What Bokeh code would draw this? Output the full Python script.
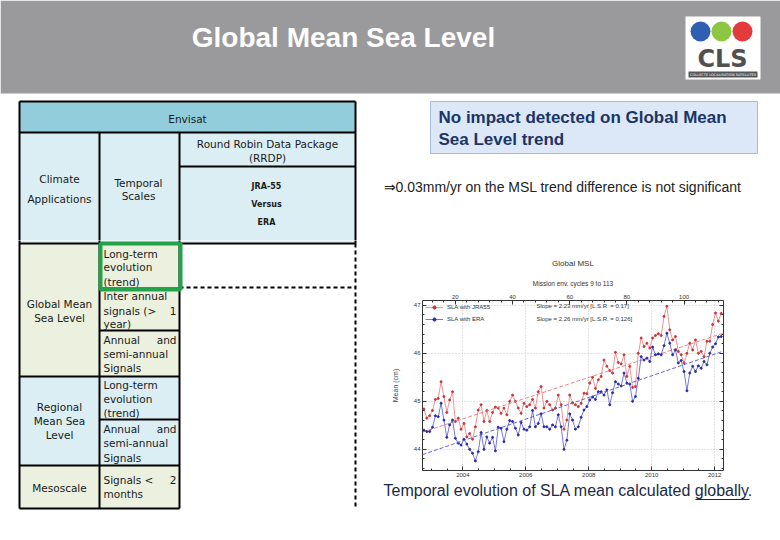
import numpy as np
from bokeh.plotting import figure
from bokeh.layouts import column, row
from bokeh.models import (Range1d, LinearAxis, SingleIntervalTicker, Legend, LegendItem,
                          Label, Title)
from bokeh.core.properties import value
from bokeh.embed import file_html
from bokeh.resources import INLINE

# ---------------- data ----------------
CYCLES = list(range(9, 114))
SLA_JRA55 = [44.84, 44.65, 44.70, 44.81, 45.04, 45.06, 45.41, 45.10, 44.77, 45.03,
             45.20, 44.58, 44.65, 44.42, 44.54, 44.26, 44.33, 44.21, 44.47, 44.82,
             44.93, 44.58, 44.81, 44.58, 44.77, 44.88, 44.86, 44.75, 44.86, 44.72,
             45.00, 45.13, 45.00, 44.86, 44.75, 44.96, 44.89, 44.93, 45.04, 44.86,
             45.20, 45.31, 44.86, 45.00, 44.93, 44.82, 44.86, 45.13, 44.93, 44.42,
             44.61, 45.13, 44.97, 44.93, 44.89, 44.96, 45.17, 45.16, 45.38, 45.50,
             45.27, 45.45, 45.52, 45.86, 45.73, 45.64, 45.59, 46.02, 45.81, 45.78,
             45.97, 45.52, 45.73, 45.29, 45.31, 46.00, 46.32, 46.14, 46.21, 46.11,
             46.32, 46.37, 46.41, 46.37, 46.77, 46.98, 46.49, 46.28, 46.35, 46.04,
             45.97, 45.80, 46.00, 46.21, 46.07, 46.28, 46.00, 46.04, 45.93, 46.25,
             46.25, 46.60, 46.84, 46.67, 46.83]
SLA_ERA = [44.40, 44.37, 44.37, 44.46, 44.70, 44.68, 44.96, 44.61, 44.25, 44.51,
           44.61, 44.23, 44.13, 44.09, 44.21, 44.11, 44.00, 43.92, 43.76, 43.95,
           44.35, 44.00, 44.26, 44.13, 44.25, 43.97, 44.46, 44.44, 44.16, 44.42,
           44.60, 44.58, 44.44, 44.30, 44.56, 44.42, 44.40, 44.47, 44.81, 44.47,
           44.54, 44.74, 44.47, 44.47, 44.42, 44.51, 44.47, 44.72, 44.47, 44.00,
           44.19, 44.74, 44.61, 44.42, 44.47, 44.67, 44.82, 44.89, 45.03, 45.09,
           45.04, 45.20, 45.20, 45.13, 45.24, 44.93, 45.18, 45.41, 45.36, 45.32,
           45.59, 45.38, 45.36, 45.00, 45.10, 45.48, 45.93, 45.86, 45.90, 45.83,
           46.13, 45.97, 45.99, 45.97, 46.16, 46.42, 46.21, 45.97, 46.07, 45.80,
           45.85, 45.62, 45.22, 45.59, 45.73, 45.62, 45.74, 45.69, 45.83, 45.76,
           46.00, 46.13, 46.20, 46.34, 46.35]
SERIES_NAMES = ["SLA with JRA55", "SLA with ERA"]
SLOPES = ["2.23", "2.26"]
LSR = ["0.17", "0.126"]
Y_TICKS = [44, 45, 46, 47]

# ---------------- inner chart ----------------
chart = figure(width=400, height=240, x_range=Range1d(2002.72, 2012.28),
               y_range=Range1d(43.56, 47.1), output_backend="svg", toolbar_location=None,
               title="Global MSL", min_border_left=42, min_border_right=57,
               min_border_top=60, min_border_bottom=10, frame_align=False,
               background_fill_color="white", border_fill_color="white",
               outline_line_color="#333333", outline_line_width=1)
chart.title.align = "center"
chart.title.text_font = "Liberation Sans"
chart.title.text_font_size = "8px"
chart.title.text_font_style = "normal"
chart.title.text_color = "#333333"
chart.extra_x_ranges = {"cycle": Range1d(8.5, 113.8)}

xt = SingleIntervalTicker(interval=2, num_minor_ticks=4)
yt = SingleIntervalTicker(interval=1, num_minor_ticks=5)
chart.xaxis.ticker = xt
chart.yaxis.ticker = yt
chart.xgrid.ticker = xt
chart.ygrid.ticker = yt
chart.grid.grid_line_color = "#bbbbbb"
chart.grid.grid_line_dash = "1 2"
chart.grid.grid_line_width = 0.8
chart.yaxis.axis_label = "Mean (cm)"
chart.yaxis.axis_label_text_font_size = "7px"
chart.yaxis.axis_label_text_font_style = "normal"
chart.yaxis.axis_label_text_font = "Liberation Sans"
chart.yaxis.axis_label_standoff = 12

top_axis = LinearAxis(x_range_name="cycle", ticker=SingleIntervalTicker(interval=20, num_minor_ticks=5))
right_axis = LinearAxis(ticker=yt, major_label_overrides={t: "" for t in Y_TICKS})
chart.add_layout(top_axis, "above")
chart.add_layout(right_axis, "right")
chart.add_layout(Title(text="Mission env. cycles 9 to 113", align="center", text_font_size="6.5px",
                       text_font_style="normal", text_color="#333333", text_font="Liberation Sans"),
                 "above")

for ax in chart.axis:
    ax.axis_line_color = None
    ax.major_tick_in = 4
    ax.major_tick_out = 0
    ax.minor_tick_in = 2
    ax.minor_tick_out = 0
    ax.major_tick_line_color = "#333333"
    ax.minor_tick_line_color = "#333333"
    ax.major_label_text_font_size = "6px"
    ax.major_label_text_font = "Liberation Sans"
    ax.major_label_text_color = "#333333"
    ax.major_label_standoff = 2

colors = [("#e87878", "#cc3333"), ("#5555cc", "#2a2aa8")]
items = []
for vals, (lc, mc), name in zip([SLA_JRA55, SLA_ERA], colors, SERIES_NAMES):
    rl = chart.line(CYCLES, vals, x_range_name="cycle", line_color=lc, line_width=0.8)
    rs = chart.scatter(CYCLES, vals, x_range_name="cycle", size=2.0, color=mc)
    coef = np.polyfit(CYCLES, vals, 1)
    xs = [chart.extra_x_ranges["cycle"].start, chart.extra_x_ranges["cycle"].end]
    chart.line(xs, list(np.polyval(coef, xs)), x_range_name="cycle", line_color=lc,
               line_width=0.9, line_dash="4 2")
    items.append(LegendItem(label=name, renderers=[rl, rs]))

leg = Legend(items=items, location="top_left", label_text_font_size="6px",
             label_text_font="Liberation Sans", label_text_color="#333333",
             glyph_width=18, glyph_height=8, spacing=4, padding=2, margin=3,
             label_standoff=4, background_fill_alpha=0, border_line_color=None)
chart.add_layout(leg)
for i, (s, l) in enumerate(zip(SLOPES, LSR)):
    chart.add_layout(Label(x=2006.34, y=46.98 - 0.26 * i,
                           text=f"Slope = {s} mm/yr [L.S.R. = {l}]",
                           text_font_size="6px", text_font="Liberation Sans",
                           text_color="#333333", text_baseline="middle"))


# ---------------- slide pieces (tiled around the chart) ----------------
def piece(x0, x1, y0, y1):
    f = figure(width=x1 - x0, height=y1 - y0, x_range=Range1d(x0, x1), y_range=Range1d(y1, y0),
               output_backend="svg", toolbar_location=None, x_axis_type=None,
               y_axis_type=None, min_border=0, outline_line_color=None, frame_align=False,
               background_fill_color="white", border_fill_color="white")
    f.grid.visible = False
    return f


top = piece(0, 780, 0, 240)
left = piece(0, 380, 240, 540)
bottom = piece(380, 780, 480, 540)


def txt(f, xs, ys, texts, size="10.5px", align="center", style="normal", color="#1a1a1a",
        font="DejaVu Sans"):
    f.text(x=xs, y=ys, text=texts, text_font=value(font), text_font_size=size,
           text_align=align, text_baseline="middle", text_font_style=style,
           text_color=color)


def table_shapes(f):
    f.quad(left=[19], right=[355], top=[101], bottom=[132], fill_color="#92cddc", line_color=None)
    f.quad(left=[19], right=[355], top=[132], bottom=[243], fill_color="#dbeef3", line_color=None)
    f.quad(left=[19], right=[179], top=[243], bottom=[376], fill_color="#ebf1de", line_color=None)
    f.quad(left=[19], right=[179], top=[376], bottom=[465], fill_color="#dbeef3", line_color=None)
    f.quad(left=[19], right=[179], top=[465], bottom=[508], fill_color="#ebf1de", line_color=None)
    hx0 = [19, 19, 179, 19, 99, 99, 19, 99, 19, 19]
    hx1 = [355, 355, 355, 355, 179, 179, 179, 179, 179, 179]
    hy = [101, 132, 166, 243, 288, 330, 376, 419, 465, 508]
    f.segment(x0=hx0, y0=hy, x1=hx1, y1=hy, line_color="black", line_width=2)
    vx = [19, 99, 179, 355]
    f.segment(x0=vx, y0=[101, 132, 132, 101], x1=vx, y1=[508, 508, 508, 243],
              line_color="black", line_width=2)


# --- top piece
top.quad(left=[0], right=[780], top=[0], bottom=[93], fill_color="#9a9a9c", line_color=None)
txt(top, [343], [37], ["Global Mean Sea Level"], size="28px", style="bold", color="white",
    font="Liberation Sans")
top.quad(left=[685], right=[760], top=[16], bottom=[79], fill_color="white", line_color=None)
top.circle(x=[700, 721, 742], y=[31, 31, 31], radius=10,
           fill_color=["#2f5fb3", "#8dc641", "#e23b3b"], line_color=None)
txt(top, [722], [58], ["CLS"], size="24px", style="bold", color="#505050")
top.quad(left=[688], right=[757], top=[71], bottom=[77], fill_color="#555555", line_color=None)
txt(top, [722.5], [74], ["COLLECTE LOCALISATION SATELLITES"], size="3.5px", color="white")
table_shapes(top)
txt(top, [187], [118], ["Envisat"])
txt(top, [59, 59, 138, 138], [178, 198, 182, 195],
    ["Climate", "Applications", "Temporal", "Scales"])
txt(top, [267, 267], [143, 157], ["Round Robin Data Package", "(RRDP)"])
txt(top, [266, 266, 266], [186, 204, 222], ["JRA-55", "Versus", "ERA"], size="8px", style="bold")
top.quad(left=[430], right=[757], top=[101], bottom=[153], fill_color="#dce8f7",
         line_color="#a3bcdf", line_width=1)
txt(top, [438, 438], [117, 139], ["No impact detected on Global Mean", "Sea Level trend"],
    size="17px", style="bold", color="#1b3566", align="left", font="Liberation Sans")
txt(top, [383], [186], ["\u21d20.03mm/yr on the MSL trend difference is not significant"],
    size="14px", color="#222222", align="left", font="Liberation Sans")

# --- left piece
table_shapes(left)
left.segment(x0=[179, 355], y0=[287, 243], x1=[355, 355], y1=[287, 508], line_color="black",
             line_width=2, line_dash="4 3")
txt(left, [59] * 6, [303, 317, 406, 420, 434, 487],
    ["Global Mean", "Sea Level", "Regional", "Mean Sea", "Level", "Mesoscale"])
left_texts = ["Long-term", "evolution", "(trend)", "Inter annual", "signals  (>", "year)",
              "Annual", "semi-annual", "Signals", "Long-term", "evolution", "(trend)",
              "Annual", "semi-annual", "Signals", "Signals  <", "months"]
left_y = [253, 266, 281, 295, 310, 323, 339, 353, 367, 384, 398, 412, 428, 442, 457, 479, 493]
txt(left, [103] * len(left_texts), left_y, left_texts, align="left")
txt(left, [176, 176, 176, 176], [310, 339, 428, 479], ["1", "and", "and", "2"], align="right")
left.quad(left=[100], right=[180], top=[243], bottom=[289], fill_color=None,
          line_color="#22a34a", line_width=4)

# --- bottom-right piece
txt(bottom, [383], [490], ["Temporal evolution of SLA mean calculated globally."], size="16px",
    color="#1a2a44", align="left", font="Liberation Sans")
bottom.segment(x0=[695], y0=[499], x1=[749], y1=[499], line_color="#1a2a44", line_width=1)

layout = column(top, row(left, column(chart, bottom, spacing=0), spacing=0), spacing=0)

open("out.html", "w").write(file_html(layout, INLINE))
